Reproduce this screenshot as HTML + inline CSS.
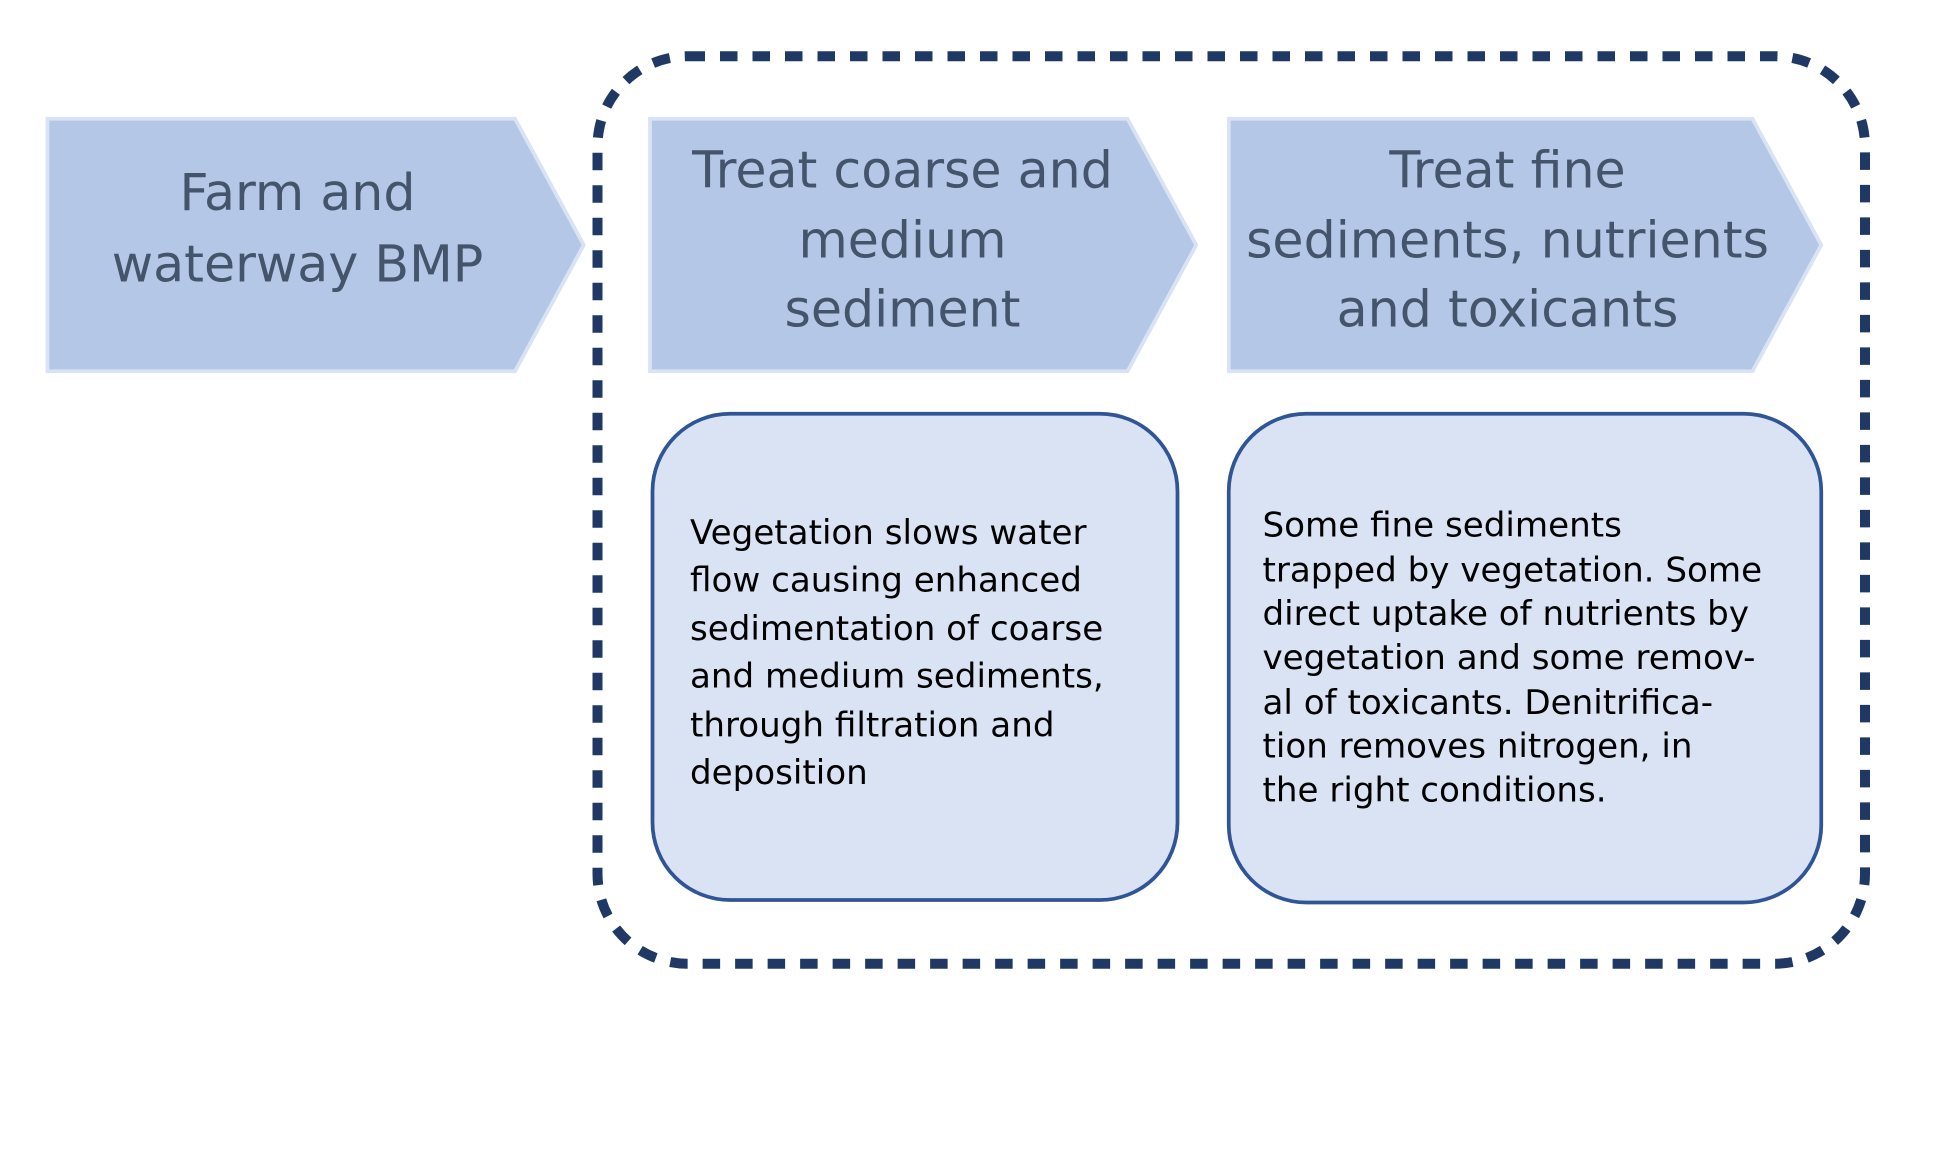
<!DOCTYPE html>
<html><head><meta charset="utf-8"><style>
html,body{margin:0;padding:0;background:#fff;width:1960px;height:1154px;overflow:hidden}
svg{display:block}
.h{font-family:"DejaVu Sans","Liberation Sans",sans-serif;font-size:40.5px;fill:#44546a;text-anchor:middle}
.b{font-family:"DejaVu Sans","Liberation Sans",sans-serif;font-size:27.3px;fill:#000}
</style></head><body>
<svg width="1960" height="1154" viewBox="0 0 1568 923.2" xmlns="http://www.w3.org/2000/svg">
<rect x="478" y="45" width="1014" height="726" rx="72" fill="none" stroke="#1f3864" stroke-width="8" stroke-dasharray="14 12"/>
<polygon points="38,95 412,95 467,196 412,297 38,297" fill="#b4c7e7" stroke="#dae3f3" stroke-width="3"/>
<polygon points="520,95 902,95 957,196 902,297 520,297" fill="#b4c7e7" stroke="#dae3f3" stroke-width="3"/>
<polygon points="983,95 1402,95 1457,196 1402,297 983,297" fill="#b4c7e7" stroke="#dae3f3" stroke-width="3"/>
<rect x="522" y="331" width="420" height="389" rx="62" fill="#dae3f3" stroke="#2f5597" stroke-width="3"/>
<rect x="983" y="331" width="474" height="391" rx="62" fill="#dae3f3" stroke="#2f5597" stroke-width="3"/>
<text class="h" x="238" y="168">Farm and</text>
<text class="h" x="238" y="225">waterway BMP</text>
<text class="h" x="722" y="150">Treat coarse and</text>
<text class="h" x="722" y="206">medium</text>
<text class="h" x="722" y="261">sediment</text>
<text class="h" x="1206" y="150">Treat fine</text>
<text class="h" x="1206" y="206">sediments, nutrients</text>
<text class="h" x="1206" y="261">and toxicants</text>
<g class="b">
<text x="552" y="435">Vegetation slows water</text>
<text x="552" y="473">flow causing enhanced</text>
<text x="552" y="512">sedimentation of coarse</text>
<text x="552" y="550">and medium sediments,</text>
<text x="552" y="589">through filtration and</text>
<text x="552" y="627">deposition</text>
<text x="1010" y="429">Some fine sediments</text>
<text x="1010" y="465">trapped by vegetation. Some</text>
<text x="1010" y="500">direct uptake of nutrients by</text>
<text x="1010" y="535">vegetation and some remov-</text>
<text x="1010" y="571">al of toxicants. Denitrifica-</text>
<text x="1010" y="606">tion removes nitrogen, in</text>
<text x="1010" y="641">the right conditions.</text>
</g>
</svg>
</body></html>
